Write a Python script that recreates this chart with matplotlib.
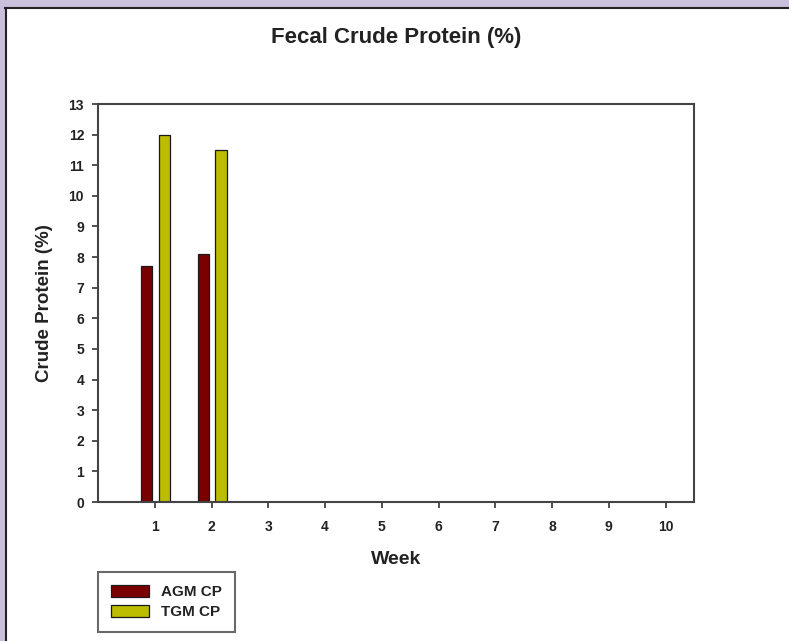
import matplotlib
matplotlib.use("Agg")
import matplotlib.pyplot as plt
import numpy as np
from matplotlib.patches import Rectangle
from matplotlib.lines import Line2D

weeks = [1, 2, 3, 4, 5, 6, 7, 8, 9, 10]
bar_weeks = [1, 2]
agm_cp = [7.7, 8.1]
tgm_cp = [12.0, 11.5]
series_labels = ["AGM CP", "TGM CP"]

plt.rcParams['font.family'] = ['Liberation Sans', 'DejaVu Sans']

W, H = 789, 641
fig = plt.figure(figsize=(W / 100, H / 100), dpi=100)
fig.patch.set_facecolor("white")

# lavender page border (top and left) with a thin dark line
lav = "#c9c0dc"
fig.patches.append(Rectangle((0, 1 - 7 / H), 1, 7 / H, transform=fig.transFigure,
                             facecolor=lav, edgecolor="none", zorder=0))
fig.patches.append(Rectangle((0, 0), 5 / W, 1, transform=fig.transFigure,
                             facecolor=lav, edgecolor="none", zorder=0))
fig.lines.append(Line2D([5 / W, 1], [1 - 7.5 / H, 1 - 7.5 / H], transform=fig.transFigure,
                        color="#222222", lw=1.5))
fig.lines.append(Line2D([5.5 / W, 5.5 / W], [0, 1 - 7.5 / H], transform=fig.transFigure,
                        color="#222222", lw=1.5))

ax = fig.add_axes([98 / W, (H - 502) / H, (694 - 98) / W, (502 - 104) / H])

x = np.array(bar_weeks, dtype=float)
width = 0.2
b1 = ax.bar(x - 0.145, agm_cp, width, color="#7a0000", edgecolor="#1a1a1a", linewidth=0.9,
            label=series_labels[0])
b2 = ax.bar(x + 0.17, tgm_cp, width, color="#bcbc00", edgecolor="#1a1a1a", linewidth=0.9,
            label=series_labels[1])

ax.set_xlim(0, 10.5)
ax.set_ylim(0, 13)
ax.set_xticks(weeks)
ax.set_yticks(range(0, 14))
ax.tick_params(direction="out", length=4, width=1.2, color="#333333", labelsize=10)
for lbl in ax.get_xticklabels() + ax.get_yticklabels():
    lbl.set_fontweight("bold")
    lbl.set_color("#222222")
ax.tick_params(axis="x", pad=9)
ax.tick_params(axis="y", pad=6)
for s in ax.spines.values():
    s.set_color("#444444")
    s.set_linewidth(1.5)

ax.set_xlabel("Week", fontsize=14, fontweight="bold", color="#222222", labelpad=12)
ax.set_ylabel("Crude Protein (%)", fontsize=13.5, fontweight="bold", color="#222222", labelpad=11)
fig.text(396 / W, 1 - 38 / H, "Fecal Crude Protein (%)", ha="center", va="center",
         fontsize=16, fontweight="bold", color="#222222")

leg = fig.legend(handles=[b1, b2], labels=series_labels, loc="upper left",
                 bbox_to_anchor=(98 / W, 1 - 572 / H), bbox_transform=fig.transFigure,
                 frameon=True, fancybox=False, prop={"weight": "bold", "size": 11},
                 handlelength=2.5, handleheight=0.8, handletextpad=0.8,
                 borderpad=0.85, labelspacing=0.4, borderaxespad=0)
leg.get_frame().set_edgecolor("#444444")
leg.get_frame().set_linewidth(1.5)
for t in leg.get_texts():
    t.set_color("#222222")

fig.savefig("out.png", dpi=100)
